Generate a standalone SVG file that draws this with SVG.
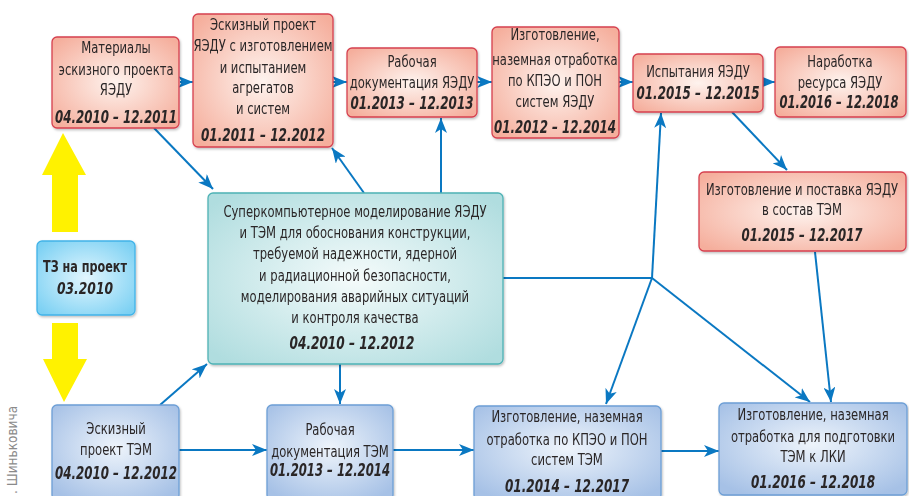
<svg xmlns="http://www.w3.org/2000/svg" width="909" height="496" viewBox="0 0 909 496">
<style>
.t text{font-family:"DejaVu Sans Condensed","DejaVu Sans",sans-serif;font-size:15px;fill:#2a2627;text-anchor:middle}
.d{font-family:"DejaVu Sans Condensed","DejaVu Sans",sans-serif;font-size:17px;font-weight:bold;font-style:italic;fill:#2a2627;text-anchor:middle}
.b{font-family:"DejaVu Sans Condensed","DejaVu Sans",sans-serif;font-size:15.5px;font-weight:bold;fill:#2a2627;text-anchor:middle}
.pk{fill:url(#gPink);stroke:#d6404f;stroke-width:1.3}
.bl{fill:url(#gBlue);stroke:#6d9fd6;stroke-width:1.3}
.cy{fill:url(#gCyan);stroke:#4eb2b5;stroke-width:1.3}
.sk{fill:url(#gSky);stroke:#41b3e8;stroke-width:1.3}
.c{fill:none;stroke:#0a78c2;stroke-width:2;marker-end:url(#ah)}
.cn{fill:none;stroke:#0a78c2;stroke-width:2}
.y{fill:#fff200}
</style>
<defs>
<radialGradient id="gPink" cx="50%" cy="50%" r="65%"><stop offset="0" stop-color="#fef3ee"/><stop offset="1" stop-color="#f5ae9c"/></radialGradient>
<radialGradient id="gBlue" cx="50%" cy="45%" r="65%"><stop offset="0" stop-color="#eef4fb"/><stop offset="1" stop-color="#a6c1e6"/></radialGradient>
<radialGradient id="gCyan" cx="50%" cy="50%" r="65%"><stop offset="0" stop-color="#f5fbfb"/><stop offset="1" stop-color="#b0dddf"/></radialGradient>
<radialGradient id="gSky" cx="50%" cy="50%" r="65%"><stop offset="0" stop-color="#e2f6fe"/><stop offset="1" stop-color="#7ad0f3"/></radialGradient>
<filter id="sh" x="-5%" y="-5%" width="112%" height="115%"><feDropShadow dx="1" dy="1.5" stdDeviation="1" flood-color="#000" flood-opacity="0.25"/></filter>
<marker id="ah" markerUnits="userSpaceOnUse" markerWidth="16" markerHeight="12" refX="15" refY="6" orient="auto"><path d="M0,0 L15,6 L0,12 L4,6 z" fill="#0a78c2"/></marker>
</defs>

<g id="yellow-arrows">
<polygon class="y" points="63,133 86,175 78,175 78,232 52,232 52,175 42,175"/>
<polygon class="y" points="52,323 78,323 78,359 87,359 64,402 43,359 52,359"/>
</g>

<g id="connectors">
<path class="c" d="M154,128 L213,189"/>
<path class="c" d="M180,82 L193,82"/>
<path class="c" d="M333,82 L347,82"/>
<path class="c" d="M477,82 L492,82"/>
<path class="c" d="M619,82 L633,82"/>
<path class="c" d="M763,82 L775,82"/>
<path class="c" d="M732,112 L787,170"/>
<path class="c" d="M815,252 L831,402"/>
<path class="c" d="M364,193 L332,148"/>
<path class="c" d="M441,193 L441,118"/>
<path class="cn" d="M503,278 L652,278"/>
<path class="c" d="M652,278 L661,113"/>
<path class="c" d="M652,278 L606,404"/>
<path class="c" d="M652,278 L810,402"/>
<path class="c" d="M340,364 L340,404"/>
<path class="c" d="M160,405 L207,364"/>
<path class="c" d="M179,450 L267,450"/>
<path class="c" d="M393,450 L474,450"/>
<path class="c" d="M661,451 L719,451"/>
</g>

<g id="n1" filter="url(#sh)">
<rect class="pk" x="52" y="37" width="127" height="91" rx="5"/>
<g class="t" transform="translate(116 0) scale(0.86 1)">
<text x="0" y="53">Материалы</text>
<text x="0" y="75">эскизного проекта</text>
<text x="0" y="95">ЯЭДУ</text>
</g>
<text class="d" x="116" y="123" textLength="122" lengthAdjust="spacingAndGlyphs">04.2010 – 12.2011</text>
</g>

<g id="n2" filter="url(#sh)">
<rect class="pk" x="193" y="14" width="140" height="133" rx="5"/>
<g class="t" transform="translate(263 0) scale(0.86 1)">
<text x="0" y="30">Эскизный проект</text>
<text x="0" y="51">ЯЭДУ с изготовлением</text>
<text x="0" y="73">и испытанием</text>
<text x="0" y="93">агрегатов</text>
<text x="0" y="114">и систем</text>
</g>
<text class="d" x="263" y="141" textLength="124" lengthAdjust="spacingAndGlyphs">01.2011 – 12.2012</text>
</g>

<g id="n3" filter="url(#sh)">
<rect class="pk" x="347" y="48" width="130" height="69" rx="5"/>
<g class="t" transform="translate(412 0) scale(0.86 1)">
<text x="0" y="67">Рабочая</text>
<text x="0" y="88">документация ЯЭДУ</text>
</g>
<text class="d" x="412" y="109" textLength="123" lengthAdjust="spacingAndGlyphs">01.2013 – 12.2013</text>
</g>

<g id="n4" filter="url(#sh)">
<rect class="pk" x="492" y="27" width="127" height="111" rx="5"/>
<g class="t" transform="translate(555 0) scale(0.86 1)">
<text x="0" y="40">Изготовление,</text>
<text x="0" y="65">наземная отработка</text>
<text x="0" y="86">по КПЭО и ПОН</text>
<text x="0" y="107">систем ЯЭДУ</text>
</g>
<text class="d" x="555" y="133" textLength="122" lengthAdjust="spacingAndGlyphs">01.2012 – 12.2014</text>
</g>

<g id="n5" filter="url(#sh)">
<rect class="pk" x="633" y="54" width="130" height="58" rx="5"/>
<g class="t" transform="translate(698 0) scale(0.86 1)">
<text x="0" y="77">Испытания ЯЭДУ</text>
</g>
<text class="d" x="698" y="99" textLength="123" lengthAdjust="spacingAndGlyphs">01.2015 – 12.2015</text>
</g>

<g id="n6" filter="url(#sh)">
<rect class="pk" x="775" y="47" width="131" height="70" rx="5"/>
<g class="t" transform="translate(840 0) scale(0.86 1)">
<text x="0" y="67">Наработка</text>
<text x="0" y="88">ресурса ЯЭДУ</text>
</g>
<text class="d" x="839" y="108" textLength="119" lengthAdjust="spacingAndGlyphs">01.2016 – 12.2018</text>
</g>

<g id="n7" filter="url(#sh)">
<rect class="pk" x="699" y="172" width="207" height="79" rx="5"/>
<g class="t" transform="translate(802 0) scale(0.86 1)">
<text x="0" y="195">Изготовление и поставка ЯЭДУ</text>
<text x="0" y="215">в состав ТЭМ</text>
</g>
<text class="d" x="802" y="241" textLength="121" lengthAdjust="spacingAndGlyphs">01.2015 – 12.2017</text>
</g>

<g id="n8" filter="url(#sh)">
<rect class="cy" x="208" y="193" width="295" height="171" rx="5"/>
<g class="t" transform="translate(355 0) scale(0.86 1)">
<text x="0" y="217">Суперкомпьютерное моделирование ЯЭДУ</text>
<text x="0" y="238">и ТЭМ для обоснования конструкции,</text>
<text x="0" y="259">требуемой надежности, ядерной</text>
<text x="0" y="281">и радиационной безопасности,</text>
<text x="0" y="302">моделирования аварийных ситуаций</text>
<text x="0" y="323">и контроля качества</text>
</g>
<text class="d" x="352" y="349" textLength="125" lengthAdjust="spacingAndGlyphs">04.2010 – 12.2012</text>
</g>

<g id="n9" filter="url(#sh)">
<rect class="sk" x="37" y="241" width="98" height="74" rx="5"/>
<text class="b" x="85" y="272" textLength="84" lengthAdjust="spacingAndGlyphs">ТЗ на проект</text>
<text class="d" x="85" y="294" style="font-size:16px" textLength="56" lengthAdjust="spacingAndGlyphs">03.2010</text>
</g>

<g id="n10" filter="url(#sh)">
<rect class="bl" x="52" y="405" width="127" height="95" rx="5"/>
<g class="t" transform="translate(116 0) scale(0.86 1)">
<text x="0" y="434">Эскизный</text>
<text x="0" y="455">проект ТЭМ</text>
</g>
<text class="d" x="116" y="479" textLength="122" lengthAdjust="spacingAndGlyphs">04.2010 – 12.2012</text>
</g>

<g id="n11" filter="url(#sh)">
<rect class="bl" x="267" y="405" width="126" height="95" rx="5"/>
<g class="t" transform="translate(330 0) scale(0.86 1)">
<text x="0" y="435">Рабочая</text>
<text x="0" y="457">документация ТЭМ</text>
</g>
<text class="d" x="330" y="476" textLength="120" lengthAdjust="spacingAndGlyphs">01.2013 – 12.2014</text>
</g>

<g id="n12" filter="url(#sh)">
<rect class="bl" x="474" y="406" width="187" height="94" rx="5"/>
<g class="t" transform="translate(567 0) scale(0.86 1)">
<text x="0" y="422">Изготовление, наземная</text>
<text x="0" y="445">отработка по КПЭО и ПОН</text>
<text x="0" y="465">систем ТЭМ</text>
</g>
<text class="d" x="567" y="492" textLength="124" lengthAdjust="spacingAndGlyphs">01.2014 – 12.2017</text>
</g>

<g id="n13" filter="url(#sh)">
<rect class="bl" x="719" y="403" width="188" height="92" rx="5"/>
<g class="t" transform="translate(813 0) scale(0.86 1)">
<text x="0" y="420">Изготовление, наземная</text>
<text x="0" y="442">отработка для подготовки</text>
<text x="0" y="462">ТЭМ к ЛКИ</text>
</g>
<text class="d" x="813" y="488" textLength="124" lengthAdjust="spacingAndGlyphs">01.2016 – 12.2018</text>
</g>

<text x="17" y="494" transform="rotate(-90 17 494)" style="font-family:'DejaVu Sans Condensed','DejaVu Sans',sans-serif;font-size:13.5px;fill:#8a8a8a">. Шиньковича</text>
</svg>
